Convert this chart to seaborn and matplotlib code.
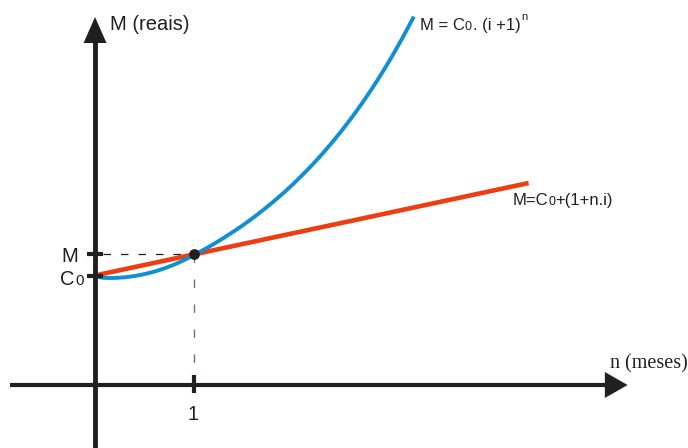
import matplotlib
matplotlib.use("Agg")
import matplotlib.pyplot as plt
import pandas as pd
import seaborn as sns

# Simple interest: straight line starting at C0
n_simple = [0.0, 4.38]
M_simple = [10.95, 20.2]

# Compound interest curve
n_compound = [0.0, 0.05, 0.1, 0.15, 0.2, 0.3, 0.4, 0.5, 0.6, 0.7, 0.8, 0.9,
              1.0, 1.1, 1.2, 1.3, 1.4, 1.5, 1.6, 1.7, 1.8, 1.9, 2.0, 2.1,
              2.2, 2.3, 2.4, 2.5, 2.6, 2.7, 2.8, 2.9, 3.0, 3.1, 3.2, 3.22]
M_compound = [10.92, 10.76, 10.71, 10.70, 10.71, 10.77, 10.90, 11.09, 11.34,
              11.66, 12.04, 12.49, 13.0, 13.54, 14.10, 14.71, 15.35, 16.02,
              16.74, 17.51, 18.32, 19.17, 20.08, 21.05, 22.07, 23.16, 24.31,
              25.54, 26.83, 28.21, 29.67, 31.22, 32.86, 34.60, 36.45, 36.84]

# Marked values on the axes
C0 = 10.95
n_mark = 1.0
M_mark = 13.05

W, H = 688, 448
DARK = "#231f20"
RED = "#ee3d12"
BLUE = "#0f8fd4"
GRAY = "#6d6e71"

sns.set_style("white")
plt.rcParams["font.family"] = ["Liberation Sans", "DejaVu Sans"]

fig = plt.figure(figsize=(W / 100, H / 100), dpi=100)
ax = fig.add_axes([0, 0, 1, 1])
ax.set_xlim(-0.96, 5.99)
ax.set_ylim(-6.3, 38.5)
ax.axis("off")

simple = pd.DataFrame({"n": n_simple, "M": M_simple})
compound = pd.DataFrame({"n": n_compound, "M": M_compound})

sns.lineplot(data=simple, x="n", y="M", color=RED, lw=3.3, ax=ax,
             zorder=3, solid_capstyle="butt")
sns.lineplot(data=compound, x="n", y="M", color=BLUE, lw=2.8, ax=ax,
             zorder=4, solid_capstyle="butt", solid_joinstyle="round")

# guide lines to the intersection point
ax.plot([0.08, n_mark], [M_mark, M_mark], color=DARK, lw=0.9,
        linestyle=(0, (6, 8)), zorder=2)
ax.plot([n_mark, n_mark], [M_mark, 0], color=GRAY, lw=1.0,
        linestyle=(0, (6, 12)), zorder=2)

# axes with arrowheads
ax.plot([-0.86, 5.18], [0, 0], color=DARK, lw=3.0, solid_capstyle="butt", zorder=5)
ax.fill([5.15, 5.38, 5.15], [-1.3, 0, 1.3], color=DARK, lw=0, zorder=5)
ax.plot([0, 0], [-6.3, 34.5], color=DARK, lw=3.5, solid_capstyle="butt", zorder=5)
ax.fill([-0.116, 0, 0.116], [34.2, 36.8, 34.2], color=DARK, lw=0, zorder=5)

# tick marks
for yv in (M_mark, C0):
    ax.plot([-0.08, 0.08], [yv, yv], color=DARK, lw=3.0,
            solid_capstyle="butt", zorder=5)
ax.plot([n_mark, n_mark], [-0.8, 1.0], color=DARK, lw=3.0,
        solid_capstyle="butt", zorder=5)

sns.scatterplot(x=[n_mark], y=[M_mark], s=60, color=DARK, edgecolor=DARK,
                linewidth=0, ax=ax, zorder=7)

fig.canvas.draw()
renderer = fig.canvas.get_renderer()


def ptext(s, x, y, size, **kw):
    kw.setdefault("color", DARK)
    kw.setdefault("va", "baseline")
    return fig.text(x / W, 1 - y / H, s, fontsize=size, **kw)


def chain(pieces, x, y):
    for s, size, dy, gap in pieces:
        t = ptext(s, x, y + dy, size)
        x += t.get_window_extent(renderer=renderer).width + gap


ptext("M (reais)", 110, 30, 14.5)
ptext("M", 78, 262, 14.5, ha="right")
ptext("C", 60, 285, 14.5)
ptext("0", 75, 285, 11)
ptext("1", 193, 420, 14.5, ha="center")
ptext("n (meses)", 610, 368, 14.5, family=["Liberation Serif", "DejaVu Serif"])

chain([("M = C", 12, 0, 0), ("0", 9, 0, 1), (". (i +1)", 12, 0, 1),
       ("n", 8, -10, 0)], 420, 30)
chain([("M=C", 12, 0, 0), ("0", 9, 0, 0), ("+(1+n.i)", 12, 0, 0)], 513, 205)

fig.savefig("out.png", dpi=100)
